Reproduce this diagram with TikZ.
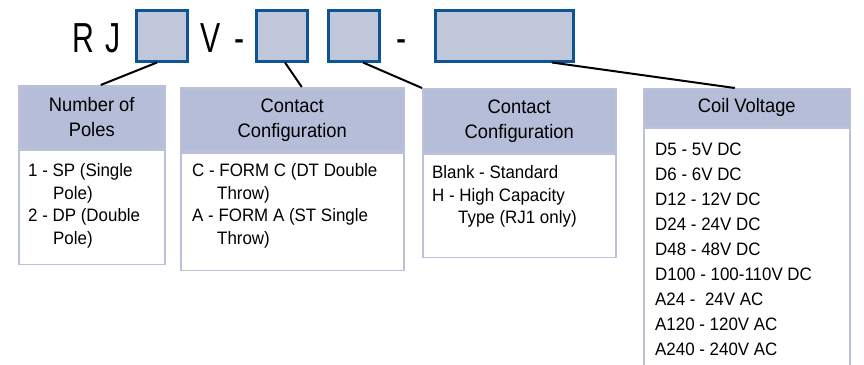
\documentclass[tikz,border=0pt]{standalone}
\usepackage{fontspec}
\setmainfont[FakeStretch=0.94]{Liberation Sans}
\newfontfamily\codefont[FakeStretch=0.72]{Liberation Sans}
\usetikzlibrary{positioning}
\definecolor{selfill}{RGB}{192,199,219}
\definecolor{seldraw}{RGB}{14,84,148}
\definecolor{hdrfill}{RGB}{181,189,216}
\definecolor{framecol}{RGB}{186,193,216}

\begin{document}
\begin{tikzpicture}[
  x=1pt, y=-1pt,
  selbox/.style={draw=seldraw,fill=selfill,line width=3pt,inner sep=0pt},
  codechar/.style={font=\codefont\fontsize{42}{42}\selectfont,inner sep=0pt,anchor=base},
  hdr/.style={draw=framecol,fill=hdrfill,line width=1.5pt,anchor=north west,
    align=center,inner sep=0pt,font=\fontsize{19.5}{25}\selectfont},
  bodybox/.style={draw=framecol,fill=white,line width=1.5pt,inner sep=0pt},
  bodytext/.style={align=left,inner sep=0pt,anchor=base west,
    font=\fontsize{18}{22.5}\selectfont},
  link/.style={line width=2pt}
]
\useasboundingbox (0,0) rectangle (864,364);

% part number
\node[codechar] (r) at (83.5,52) {R};
\node[codechar] (j) at (113.5,52) {J};
\node[selbox,minimum size=51pt] (p1) at (162,35.5) {};
\node[codechar] (v) at (211,52) {V};
\node[codechar] (d1) at (240,52) {-};
\node[selbox,minimum size=51pt] (p2) at (282,35.5) {};
\node[selbox,minimum size=51pt] (p3) at (354,35.5) {};
\node[codechar] (d2) at (402,52) {-};
\node[selbox,minimum width=138pt,minimum height=51pt] (p4) at (504.5,35.5) {};

% option boxes (text placed by the baseline of its last line)
\node[hdr,minimum width=146pt,minimum height=63pt] (hA) at (18,85) {Number of\\Poles};
\node[bodybox,minimum width=146pt,minimum height=114pt,below=0pt of hA] (bA) {};
\node[bodytext] (tA) at ([shift={(10,94.5)}]bA.north west)
  {1 - SP (Single\\\hspace*{25pt}Pole)\\2 - DP (Double\\\hspace*{25pt}Pole)};

\node[hdr,minimum width=223pt,minimum height=64pt] (hB) at (180,87) {Contact\\Configuration};
\node[bodybox,minimum width=223pt,minimum height=117pt,below=0pt of hB] (bB) {};
\node[bodytext] (tB) at ([shift={(12,91.5)}]bB.north west)
  {C - FORM C (DT Double\\\hspace*{25pt}Throw)\\A - FORM A (ST Single\\\hspace*{25pt}Throw)};

\node[hdr,minimum width=193pt,minimum height=64pt] (hC) at (422,88) {Contact\\Configuration};
\node[bodybox,minimum width=193pt,minimum height=103pt,below=0pt of hC] (bC) {};
\node[bodytext] (tC) at ([shift={(10,70)}]bC.north west)
  {Blank - Standard\\H - High Capacity\\\hspace*{26pt}Type (RJ1 only)};

\node[hdr,minimum width=206pt,minimum height=38pt] (hD) at (643,88) {Coil Voltage};
\node[bodybox,minimum width=206pt,minimum height=244pt,below=0pt of hD] (bD) {};
\node[bodytext,font=\fontsize{18}{25}\selectfont] (tD) at ([shift={(12,228)}]bD.north west)
  {D5 - 5V DC\\D6 - 6V DC\\D12 - 12V DC\\D24 - 24V DC\\D48 - 48V DC\\
   D100 - 100-110V DC\\A24 -\ \ 24V AC\\A120 - 120V AC\\A240 - 240V AC};

% leader lines
\draw[link] ([xshift=-5pt]p1.south) -- ([xshift=9pt]hA.north);
\draw[link] ([xshift=3pt]p2.south) -- ([xshift=9.5pt]hB.north);
\draw[link] ([xshift=9pt]p3.south) -- (hC.north west);
\draw[link] ([xshift=47.5pt]p4.south) -- ([xshift=-12pt]hD.north);

\end{tikzpicture}
\end{document}
